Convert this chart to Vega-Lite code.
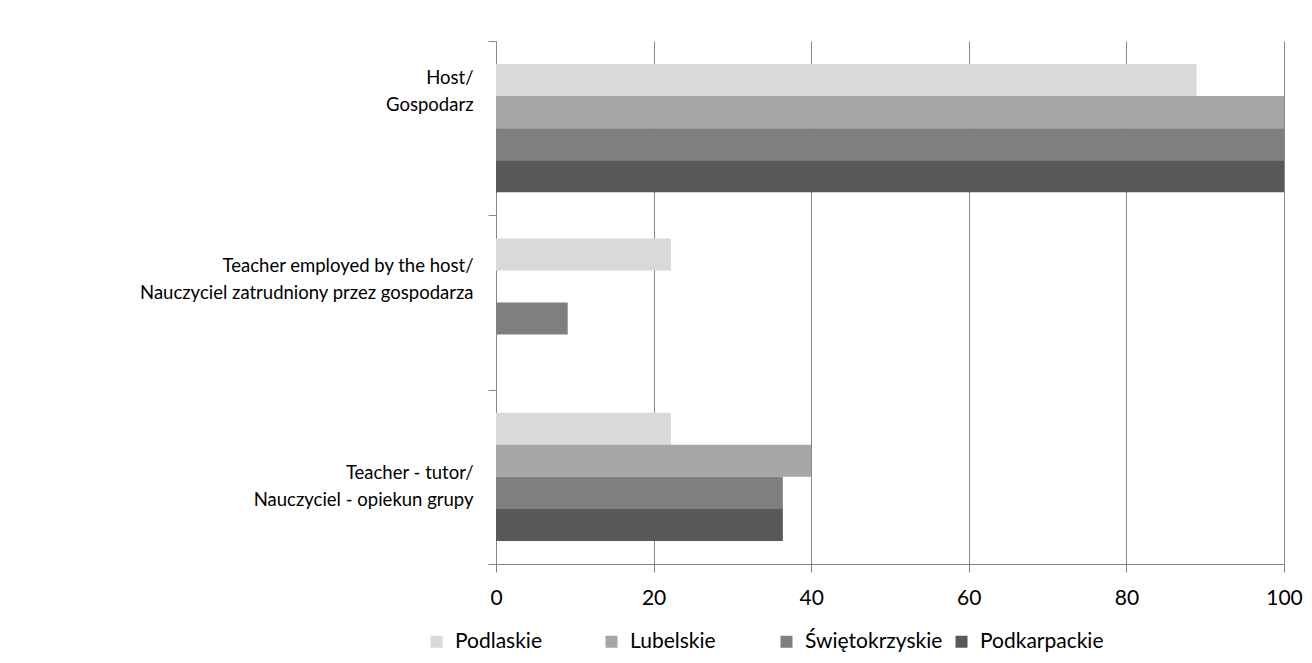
{
  "$schema": "https://vega.github.io/schema/vega-lite/v6.json",
  "width": 788,
  "height": 523,
  "autosize": {"type": "none"},
  "padding": {"left": 496, "top": 41, "right": 28, "bottom": 99},
  "background": "white",
  "config": {"font": "Lato", "view": {"stroke": null}},
  "data": {
    "values": [
      {"role": "Host/ Gospodarz", "region": "Podlaskie", "value": 88.9},
      {"role": "Host/ Gospodarz", "region": "Lubelskie", "value": 100},
      {"role": "Host/ Gospodarz", "region": "Świętokrzyskie", "value": 100},
      {"role": "Host/ Gospodarz", "region": "Podkarpackie", "value": 100},
      {"role": "Teacher employed by the host/ Nauczyciel zatrudniony przez gospodarza", "region": "Podlaskie", "value": 22.2},
      {"role": "Teacher employed by the host/ Nauczyciel zatrudniony przez gospodarza", "region": "Lubelskie", "value": 0},
      {"role": "Teacher employed by the host/ Nauczyciel zatrudniony przez gospodarza", "region": "Świętokrzyskie", "value": 9.1},
      {"role": "Teacher employed by the host/ Nauczyciel zatrudniony przez gospodarza", "region": "Podkarpackie", "value": 0},
      {"role": "Teacher - tutor/ Nauczyciel - opiekun grupy", "region": "Podlaskie", "value": 22.2},
      {"role": "Teacher - tutor/ Nauczyciel - opiekun grupy", "region": "Lubelskie", "value": 40},
      {"role": "Teacher - tutor/ Nauczyciel - opiekun grupy", "region": "Świętokrzyskie", "value": 36.4},
      {"role": "Teacher - tutor/ Nauczyciel - opiekun grupy", "region": "Podkarpackie", "value": 36.4}
    ]
  },
  "mark": {"type": "bar"},
  "encoding": {
    "y": {
      "field": "role",
      "type": "nominal",
      "sort": null,
      "scale": {"paddingInner": 0, "paddingOuter": 0},
      "axis": {
        "title": null,
        "labelExpr": "isValid(datum.value) ? [split(datum.value, '/ ')[0] + '/', split(datum.value, '/ ')[1]] : ''",
        "tickBand": "extent",
        "domainColor": "#868686",
        "tickColor": "#868686",
        "tickSize": 8,
        "labelFontSize": 18.5,
        "labelLineHeight": 27,
        "labelColor": "#000000",
        "labelPadding": 15,
        "labelLimit": 500,
        "labelOffset": {
          "condition": [
            {"test": "datum.value === 'Host/ Gospodarz'", "value": -51},
            {"test": "datum.value === 'Teacher employed by the host/ Nauczyciel zatrudniony przez gospodarza'", "value": -37}
          ],
          "value": -4
        }
      }
    },
    "yOffset": {
      "field": "region",
      "sort": ["Podlaskie", "Lubelskie", "Świętokrzyskie", "Podkarpackie"],
      "scale": {"paddingInner": 0, "paddingOuter": 0.72}
    },
    "x": {
      "field": "value",
      "type": "quantitative",
      "scale": {"domain": [0, 100]},
      "axis": {
        "title": null,
        "values": [0, 20, 40, 60, 80, 100],
        "grid": true,
        "gridColor": "#868686",
        "domainColor": "#868686",
        "tickColor": "#868686",
        "tickSize": 8,
        "labelFontSize": 21,
        "labelFlush": false,
        "labelColor": "#000000",
        "labelPadding": 15
      }
    },
    "color": {
      "field": "region",
      "sort": ["Podlaskie", "Lubelskie", "Świętokrzyskie", "Podkarpackie"],
      "scale": {"range": ["#d9d9d9", "#a6a6a6", "#7f7f7f", "#595959"]},
      "legend": {
        "title": null,
        "orient": "none",
        "direction": "horizontal",
        "columns": 4,
        "gridAlign": "all",
        "legendX": -70,
        "legendY": 590,
        "symbolType": "square",
        "symbolSize": 144,
        "symbolStrokeWidth": 0,
        "labelFontSize": 21,
        "labelColor": "#000000",
        "labelOffset": 8,
        "columnPadding": 8,
        "labelLimit": 300
      }
    }
  }
}
